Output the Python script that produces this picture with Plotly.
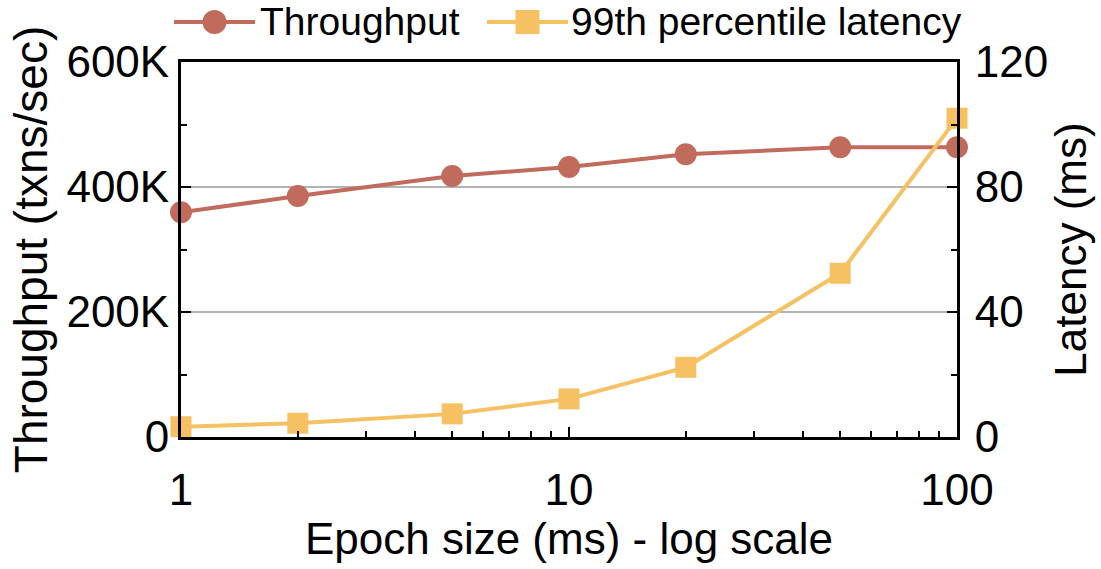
import plotly.graph_objects as go

# Epoch sizes (ms) and measured results
epoch_ms = [1, 2, 5, 10, 20, 50, 100]
throughput = [359500, 385500, 417500, 432000, 452500, 463500, 463500]   # txns/sec
latency_p99 = [3.3, 4.4, 7.4, 12.2, 22.3, 52.4, 102.0]                 # ms

y_tickvals = [0, 200000, 400000, 600000]
y_ticktext = ["0", "200K", "400K", "600K"]
y2_tickvals = [0, 40, 80, 120]
x_tickvals = [1, 10, 100]
x_minor_vals = [2, 3, 4, 5, 6, 7, 8, 9, 20, 30, 40, 50, 60, 70, 80, 90]

series_names = ["Throughput", "99th percentile latency"]
c_tp = "#C06B5C"
c_lat = "#F5C162"

FONT = "Liberation Sans, Arial, sans-serif"
FS = 44

fig = go.Figure()
fig.add_trace(go.Scatter(
    x=epoch_ms, y=throughput, name=series_names[0], mode="lines+markers",
    line=dict(color=c_tp, width=4),
    marker=dict(symbol="circle", size=22, color=c_tp),
    yaxis="y", showlegend=False, cliponaxis=False,
))
fig.add_trace(go.Scatter(
    x=epoch_ms, y=latency_p99, name=series_names[1], mode="lines+markers",
    line=dict(color=c_lat, width=4),
    marker=dict(symbol="square", size=21, color=c_lat),
    yaxis="y2", showlegend=False, cliponaxis=False,
))

# plot area in pixels
L, R, T, B = 181, 957, 62, 437
W, H = 1101, 569
def px(x):
    return (x - L) / (R - L)
def py(y):
    return (B - y) / (B - T)

# legend drawn above the plot
shapes = []
annotations = []
leg_y = 22
items = [
    (174, 255, "circle", c_tp, series_names[0], 258),
    (487, 568, "square", c_lat, series_names[1], 569),
]
for x0, x1, sym, col, label, tx in items:
    shapes.append(dict(type="line", xref="paper", yref="paper",
                       x0=px(x0), x1=px(x1), y0=py(leg_y), y1=py(leg_y),
                       line=dict(color=col, width=4)))
    cx = (x0 + x1) / 2
    r = 12
    shapes.append(dict(type="circle" if sym == "circle" else "rect",
                       xref="paper", yref="paper",
                       x0=px(cx - r), x1=px(cx + r), y0=py(leg_y + r), y1=py(leg_y - r),
                       fillcolor=col, line=dict(width=0)))
    annotations.append(dict(x=px(tx), y=py(leg_y), xref="paper", yref="paper",
                            text=label, showarrow=False, xanchor="left", yanchor="middle",
                            font=dict(size=39, color="black", family=FONT)))

tick_common = dict(ticks="inside", ticklen=10, tickwidth=2, tickcolor="black")
minor_common = dict(ticks="inside", ticklen=6, tickwidth=2, tickcolor="black", showgrid=False)

fig.update_layout(
    width=W, height=H,
    margin=dict(l=L, r=W - R, t=T, b=H - B),
    paper_bgcolor="white", plot_bgcolor="white",
    font=dict(family=FONT, size=FS, color="black"),
    shapes=shapes, annotations=annotations,
    xaxis=dict(
        type="log", range=[0, 2],
        tickmode="array", tickvals=x_tickvals, ticktext=["1", "10", "100"],
        **tick_common,
        minor=dict(tickmode="array", tickvals=x_minor_vals, **minor_common),
        showline=True, linecolor="black", linewidth=3, mirror=True,
        showgrid=False, zeroline=False,
        tickfont=dict(size=FS), ticklabelstandoff=12,
        title=dict(text="Epoch size (ms) - log scale", font=dict(size=FS), standoff=8),
    ),
    yaxis=dict(
        range=[0, 600000],
        tickmode="array", tickvals=y_tickvals, ticktext=y_ticktext,
        **tick_common,
        minor=dict(tickmode="linear", tick0=0, dtick=100000, **minor_common),
        showline=True, linecolor="black", linewidth=3,
        showgrid=True, gridcolor="#b3b3b3", gridwidth=2, zeroline=False,
        tickfont=dict(size=FS),
        title=dict(text="Throughput (txns/sec)", font=dict(size=46), standoff=5),
    ),
    yaxis2=dict(
        overlaying="y", side="right", range=[0, 120],
        tickmode="array", tickvals=y2_tickvals,
        **tick_common,
        minor=dict(tickmode="linear", tick0=0, dtick=20, **minor_common),
        showline=True, linecolor="black", linewidth=3,
        showgrid=False, zeroline=False,
        tickfont=dict(size=FS), ticklabelstandoff=6,
        title=dict(text="Latency (ms)", font=dict(size=FS), standoff=8),
    ),
)

fig.write_html("out.html")
